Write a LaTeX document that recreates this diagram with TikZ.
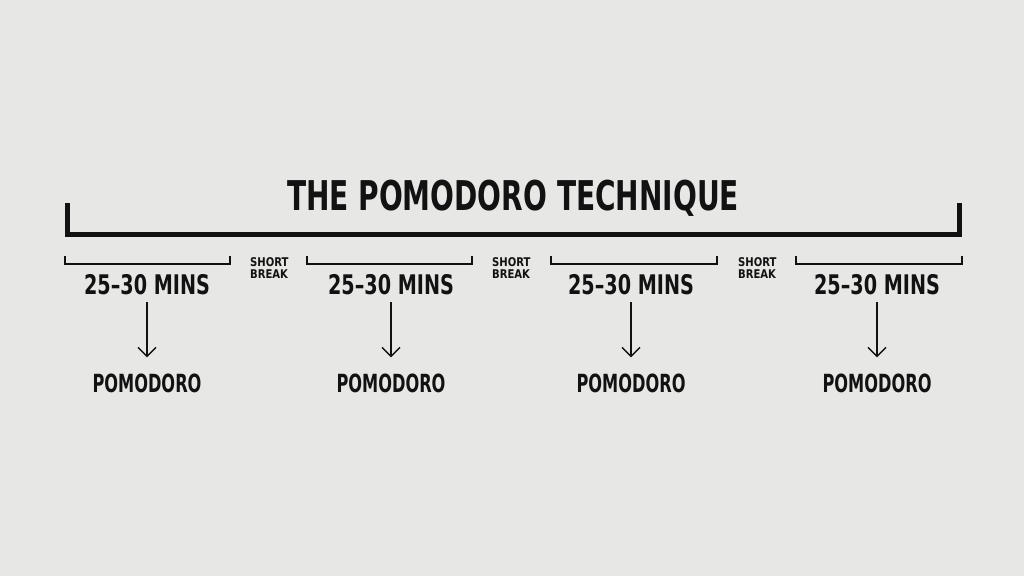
\documentclass[tikz,border=0pt]{standalone}
\usepackage{fontspec}
\setmainfont{DejaVu Sans Condensed}
\usetikzlibrary{arrows.meta}
\definecolor{paper}{RGB}{231,231,229}
\definecolor{ink}{RGB}{18,18,18}

\begin{document}
\begin{tikzpicture}[x=1pt,y=-1pt,
  lbl/.style={text=ink,inner sep=0pt},
  heading/.style={lbl,xscale=0.76,font=\bfseries\fontsize{41}{41}\selectfont},
  mins/.style={lbl,xscale=0.79,font=\bfseries\fontsize{27}{27}\selectfont},
  pomo/.style={lbl,xscale=0.72,font=\bfseries\fontsize{25}{25}\selectfont},
  brk/.style={lbl,anchor=west,align=left,xscale=0.93,font=\bfseries\fontsize{12}{12.5}\selectfont},
  bigbar/.style={draw=ink,line width=5pt},
  smallbar/.style={draw=ink,line width=1.6pt},
  down/.style={draw=ink,line width=1.4pt,-{Straight Barb[length=9pt,width=18pt]},shorten <=7pt,shorten >=16pt}]
  \fill[paper] (0,0) rectangle (1024,576);
  % title and the long bracket
  \node[heading] (title) at (513,198) {THE POMODORO TECHNIQUE};
  \draw[bigbar] (67,203) -- (67,234) -- (959,234) -- (959,203);
  % work blocks
  \foreach \l/\r/\c [count=\i] in {65/230/147, 307/472/391, 551/717/631, 796/962/877}{
    \draw[smallbar] (\l,256) -- (\l,264) -- (\r,264) -- (\r,256);
    \node[mins] (mins\i) at (\c,285) {25--30 MINS};
    \node[pomo] (pomo\i) at (\c,383) {POMODORO};
    \draw[down] (mins\i) -- (pomo\i);
  }
  % breaks
  \foreach \x [count=\i] in {250,492,738}
    \node[brk] (break\i) at (\x,268) {SHORT\\BREAK};
\end{tikzpicture}
\end{document}
